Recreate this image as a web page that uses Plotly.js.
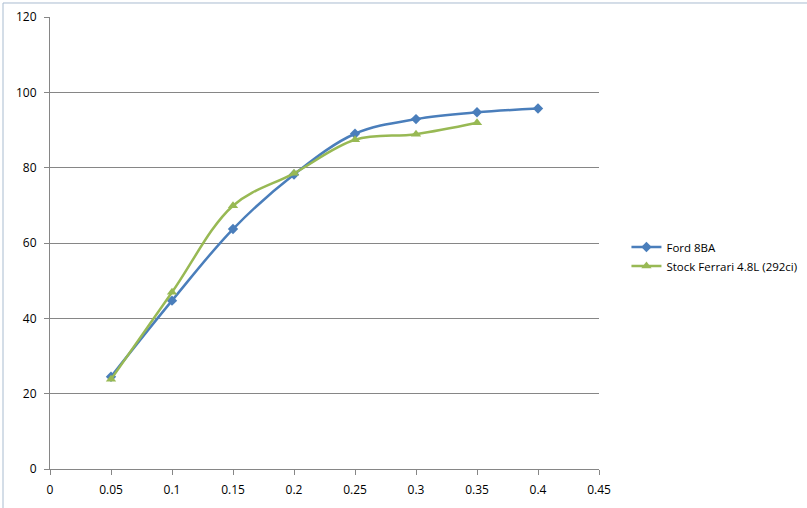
<!DOCTYPE html>
<html>
<head>
<meta charset="utf-8">
<script src="https://cdn.plot.ly/plotly-3.0.1.min.js"></script>
<style>html,body{margin:0;padding:0;background:#fff;}#chart{width:807px;height:508px;}</style>
</head>
<body>
<div id="chart"></div>
<script>
const xFord = [0.05, 0.1, 0.15, 0.2, 0.25, 0.3, 0.35, 0.4];
const yFord = [24.5, 44.7, 63.7, 78.2, 89.0, 92.9, 94.7, 95.7];
const xFerrari = [0.05, 0.1, 0.15, 0.2, 0.25, 0.3, 0.35];
const yFerrari = [23.8, 46.9, 69.9, 78.5, 87.4, 88.9, 91.9];
const nameFord = "Ford 8BA";
const nameFerrari = "Stock Ferrari 4.8L (292ci)";
const xTicks = [0, 0.05, 0.1, 0.15, 0.2, 0.25, 0.3, 0.35, 0.4, 0.45];
const xTickText = ["0", "0.05", "0.1", "0.15", "0.2", "0.25", "0.3", "0.35", "0.4", "0.45"];
const yTicks = [0, 20, 40, 60, 80, 100, 120];

const traces = [
  {
    x: xFord, y: yFord, name: nameFord, type: "scatter", mode: "lines+markers",
    line: {color: "#4A7EBB", width: 2.5, shape: "spline", smoothing: 1},
    marker: {symbol: "diamond", size: 8, color: "#4A7EBB"}
  },
  {
    x: xFerrari, y: yFerrari, name: nameFerrari, type: "scatter", mode: "lines+markers",
    line: {color: "#98B954", width: 2.5, shape: "spline", smoothing: 1},
    marker: {symbol: "triangle-up", size: 9, color: "#98B954"}
  }
];

const layout = {
  width: 807, height: 508,
  margin: {l: 50, r: 208, t: 17, b: 39, autoexpand: false},
  paper_bgcolor: "#ffffff", plot_bgcolor: "#ffffff",
  font: {family: "Open Sans, DejaVu Sans, sans-serif", size: 11, color: "#000"},
  showlegend: true,
  legend: {x: 1.05, y: 0.47, xanchor: "left", yanchor: "middle",
           font: {size: 11.5, color: "#000"}, bgcolor: "rgba(0,0,0,0)", tracegroupgap: 6},
  xaxis: {
    range: [0, 0.45], tickvals: xTicks, ticktext: xTickText, automargin: false,
    showgrid: false, zeroline: false, showline: true, linecolor: "#868686", linewidth: 1,
    ticks: "outside", ticklen: 5, tickcolor: "#868686", ticklabelstandoff: 5,
    tickfont: {size: 12, color: "#000"}
  },
  yaxis: {
    range: [0, 120], tickvals: yTicks, automargin: false,
    showgrid: true, gridcolor: "#868686", gridwidth: 1, zeroline: false,
    showline: true, linecolor: "#868686", linewidth: 1,
    ticks: "outside", ticklen: 5, tickcolor: "#868686", ticklabelstandoff: 5,
    tickfont: {size: 12, color: "#000"}
  },
  shapes: [
    {type: "line", xref: "paper", yref: "paper", x0: -0.0856, x1: -0.0856, y0: 1.031, y1: -0.1,
     line: {color: "#A9BCD0", width: 1}},
    {type: "line", xref: "paper", yref: "paper", x0: -0.0856, x1: 1.38, y0: 1.031, y1: 1.031,
     line: {color: "#A9BCD0", width: 1}}
  ]
};

Plotly.newPlot("chart", traces, layout, {displayModeBar: false, staticPlot: true});
</script>
</body>
</html>
